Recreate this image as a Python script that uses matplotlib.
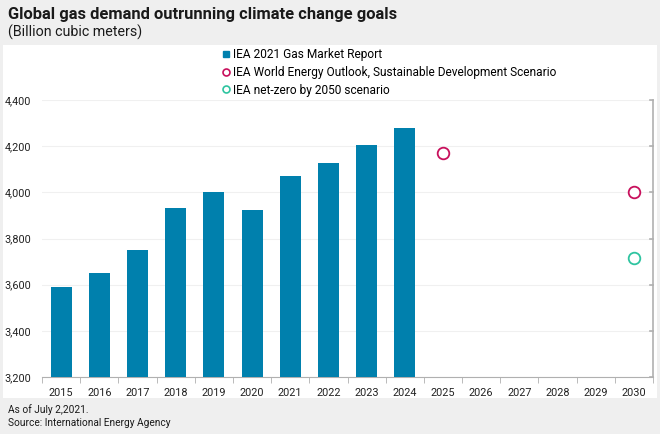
import matplotlib.pyplot as plt
from matplotlib.patches import Rectangle
from matplotlib.lines import Line2D
from matplotlib.ticker import FuncFormatter

plt.rcParams['font.family'] = ['Roboto', 'DejaVu Sans']

# data
years = ['2015', '2016', '2017', '2018', '2019', '2020', '2021', '2022',
         '2023', '2024', '2025', '2026', '2027', '2028', '2029', '2030']
gmr_years = years[:10]
gmr_values = [3590, 3650, 3750, 3932, 4000, 3924, 4070, 4127, 4205, 4279]
sds_years = ['2025', '2030']
sds_values = [4170, 4000]
nz_years = ['2030']
nz_values = [3715]

bar_color = '#0080ad'
sds_color = '#c8105c'
nz_color = '#2ec4a0'
axis_gray = '#b0b0b0'

fig = plt.figure(figsize=(6.6, 4.34), dpi=100)
fig.patch.set_facecolor('#efefef')

# white panel behind the chart
fig.patches.append(Rectangle((3 / 660, 1 - 398 / 434), 654 / 660, 353 / 434,
                             transform=fig.transFigure, facecolor='white',
                             edgecolor='none', zorder=-5))

ax = fig.add_axes([42 / 660, 1 - 377 / 434, 611 / 660, 277 / 434])
ax.set_facecolor('none')
ax.set_zorder(2)

xpos = {y: i for i, y in enumerate(years)}
ax.bar([xpos[y] for y in gmr_years], [v - 3200 for v in gmr_values],
       bottom=3200, width=0.55, color=bar_color, zorder=3)
ax.scatter([xpos[y] for y in sds_years], sds_values, s=70, facecolors='white',
           edgecolors=sds_color, linewidths=1.3, zorder=4)
ax.scatter([xpos[y] for y in nz_years], nz_values, s=70, facecolors='white',
           edgecolors=nz_color, linewidths=1.3, zorder=4)

ax.set_xlim(-0.5, len(years) - 0.5)
ax.set_ylim(3200, 4400)
ax.set_yticks(range(3200, 4401, 200))
ax.yaxis.set_major_formatter(FuncFormatter(lambda v, p: f'{int(v):,}'))
ax.set_xticks(range(len(years)))
ax.set_xticklabels(years)
ax.set_xticks([i - 0.5 for i in range(len(years) + 1)], minor=True)

ax.grid(axis='y', color='#f0f0f0', linewidth=0.8, zorder=0)
for s in ['top', 'left']:
    ax.spines[s].set_visible(False)
ax.spines['bottom'].set_color(axis_gray)
ax.spines['right'].set_color(axis_gray)
ax.spines['right'].set_linewidth(1.2)

ax.tick_params(axis='x', which='major', length=0, pad=8, labelsize=7.8,
               colors='#222222')
ax.tick_params(axis='x', which='minor', length=4, color=axis_gray)
ax.tick_params(axis='y', length=0, pad=8, labelsize=7.8, colors='#222222')

# right-side small ticks at gridlines
for v in range(3200, 4401, 200):
    ax.plot([len(years) - 0.5 - 0.08, len(years) - 0.5], [v, v],
            color=axis_gray, lw=1.2, clip_on=False, zorder=5)

handles = [
    Line2D([], [], marker='s', ls='none', color=bar_color, markersize=5),
    Line2D([], [], marker='o', ls='none', markerfacecolor='white',
           markeredgecolor=sds_color, markeredgewidth=1.2, markersize=5),
    Line2D([], [], marker='o', ls='none', markerfacecolor='white',
           markeredgecolor=nz_color, markeredgewidth=1.2, markersize=5),
]
labels = ['IEA 2021 Gas Market Report',
          'IEA World Energy Outlook, Sustainable Development Scenario',
          'IEA net-zero by 2050 scenario']
fig.legend(handles, labels, loc='upper left',
           bbox_to_anchor=(222 / 660, 1 - 48 / 434), frameon=False,
           fontsize=8.6, handlelength=0.6, handletextpad=0.3,
           labelspacing=0.4, borderaxespad=0, borderpad=0)

fig.text(8 / 660, 1 - 14 / 434, 'Global gas demand outrunning climate change goals',
         fontsize=11.9, fontweight='bold', va='center', ha='left', color='#1a1a1a')
fig.text(8 / 660, 1 - 32 / 434, '(Billion cubic meters)',
         fontsize=10.3, va='center', ha='left', color='#1a1a1a')
fig.text(8 / 660, 1 - 410 / 434, 'As of July 2,2021.',
         fontsize=7.3, va='center', ha='left', color='#1a1a1a')
fig.text(8 / 660, 1 - 423 / 434, 'Source: International Energy Agency',
         fontsize=7.3, va='center', ha='left', color='#1a1a1a')

fig.savefig('out.png', dpi=100, facecolor=fig.get_facecolor())
